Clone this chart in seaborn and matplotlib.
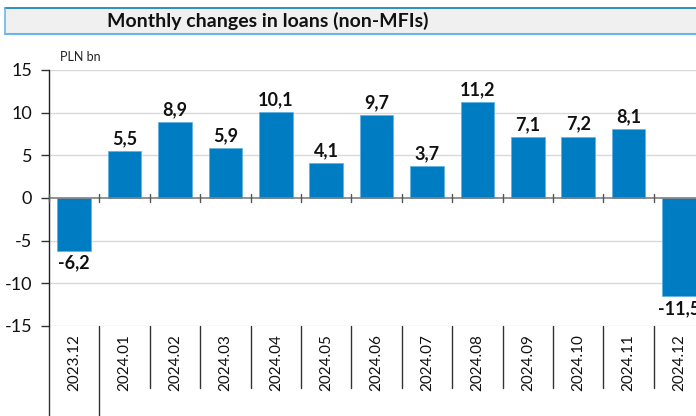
#!/usr/bin/env python3

import matplotlib
matplotlib.use("Agg")
import matplotlib.pyplot as plt
import matplotlib.transforms as mtransforms
from matplotlib.patches import Rectangle
import pandas as pd
import seaborn as sns

sns.set_theme(style="white")
plt.rcParams["font.family"] = ["Lato", "DejaVu Sans"]

months = ["2023.12", "2024.01", "2024.02", "2024.03", "2024.04", "2024.05", "2024.06",
          "2024.07", "2024.08", "2024.09", "2024.10", "2024.11", "2024.12"]
changes = [-6.2, 5.5, 8.9, 5.9, 10.1, 4.1, 9.7, 3.7, 11.2, 7.1, 7.2, 8.1, -11.5]
y_ticks = [-15, -10, -5, 0, 5, 10, 15]

BAR_COLOR = "#007CC2"
W, H = 696, 416

df = pd.DataFrame({"month": months, "change": changes})

fig = plt.figure(figsize=(W / 100, H / 100), dpi=100)
# plot area: left spine at x=49, y from 70 (15) to 326 (-15), 50.4 px per category
ax = fig.add_axes([49 / W, (H - 326) / H, 13 * 50.4 / W, 256 / H])

sns.barplot(data=df, x="month", y="change", color=BAR_COLOR, width=0.67,
            saturation=1, ax=ax, edgecolor="#5FB0E0", linewidth=0.5)

ax.set_xlim(-0.5, len(months) - 0.5)
ax.set_ylim(-15, 15)
ax.set_yticks(y_ticks)
ax.set_yticklabels([str(t) for t in y_ticks], fontsize=13, color="#111111")
ax.tick_params(axis="y", length=6, width=1, color="#333333", pad=6, left=True)
ax.set_xticks([])
ax.set_xlabel("")
ax.set_ylabel("")

for t in y_ticks:
    if t != 0:
        ax.axhline(t, color="#D9D9D9", lw=1, zorder=0)
ax.axhline(0, color="#7F7F7F", lw=1.2, zorder=3)

for s in ["top", "right", "bottom"]:
    ax.spines[s].set_visible(False)
ax.spines["left"].set_color("#222222")
ax.spines["left"].set_linewidth(1)

# value labels
for i, v in enumerate(changes):
    txt = f"{v:.1f}".replace(".", ",")
    off = 0.45 if v >= 0 else -0.45
    ax.text(i, v + off, txt, ha="center", va="bottom" if v >= 0 else "top",
            fontsize=13, fontweight="bold", color="#111111", clip_on=False)

# category separators and labels below the plot area
trans = mtransforms.blended_transform_factory(ax.transData, ax.transAxes)
for k in range(len(months) + 1):
    x = k - 0.5
    bottom = -0.36 if k <= 1 else -0.242
    ax.plot([x, x], [0, bottom], transform=trans, color="#333333", lw=1, clip_on=False)
    ax.plot([x, x], [-0.45, 0.45], color="#555555", lw=1, clip_on=False, zorder=3)
for i, m in enumerate(months):
    ax.text(i, -0.03, m, transform=trans, rotation=90, ha="center", va="top",
            fontsize=11, color="#111111", clip_on=False)

fig.text(60 / W, (H - 57) / H, "PLN bn", fontsize=9, color="#222222",
         ha="left", va="center")

# title box
fig.patches.append(Rectangle((5 / W, (H - 34) / H), 1.0, 26 / H, transform=fig.transFigure,
                             facecolor="#F0F0F0", edgecolor="none", zorder=0))
fig.lines.append(plt.Line2D([5 / W, 1], [(H - 8) / H] * 2, transform=fig.transFigure,
                            color="#0A7CC2", lw=1.2))
fig.lines.append(plt.Line2D([5 / W, 1], [(H - 34) / H] * 2, transform=fig.transFigure,
                            color="#6BB6E6", lw=1.5))
fig.lines.append(plt.Line2D([5 / W] * 2, [(H - 34) / H, (H - 8) / H], transform=fig.transFigure,
                            color="#6BB6E6", lw=1.2))
fig.text(268 / W, (H - 21) / H, "Monthly changes in loans (non-MFIs)", ha="center",
         va="center", fontsize=14, fontweight="bold", color="#111111",
         family=["Liberation Sans Narrow", "Lato", "DejaVu Sans"])

fig.savefig("out.png", dpi=100)
